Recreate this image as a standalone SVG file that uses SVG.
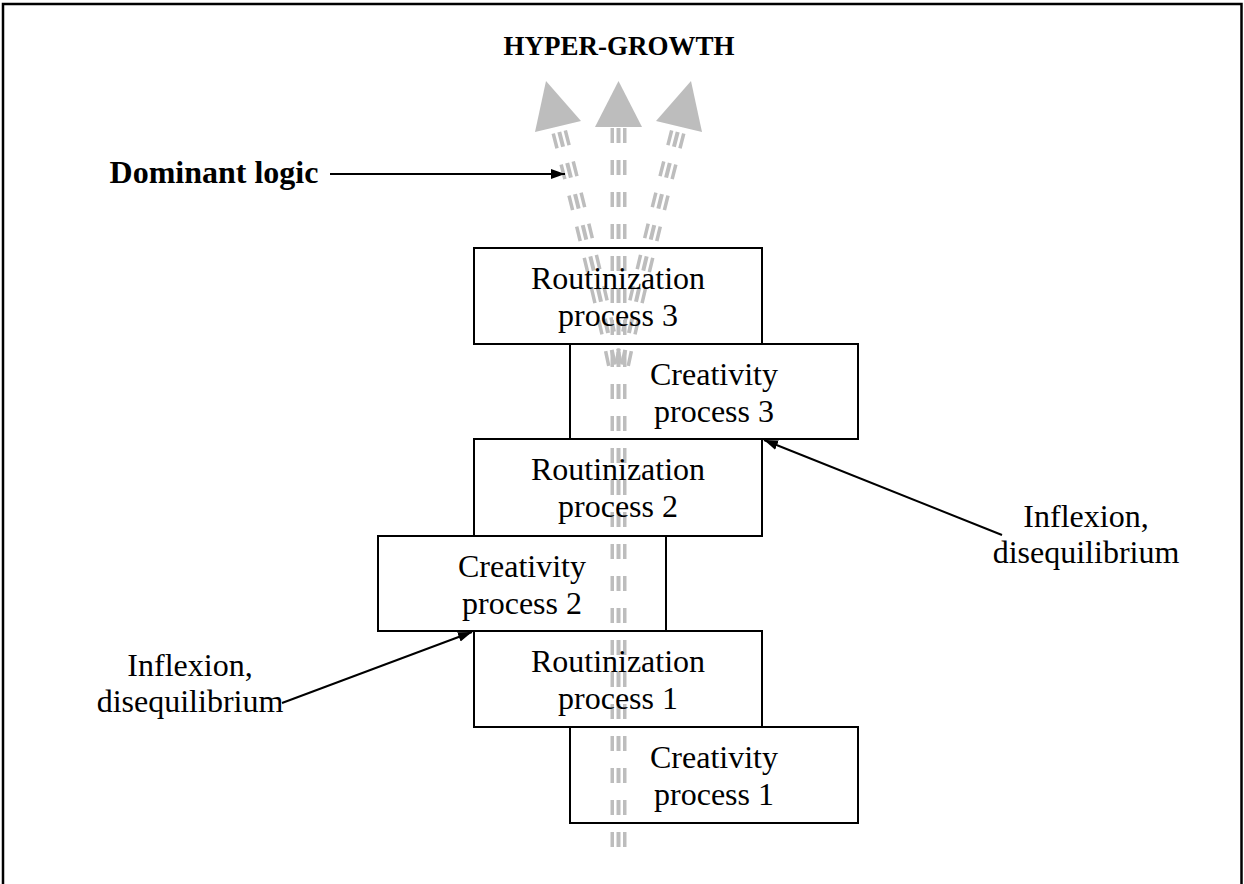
<svg xmlns="http://www.w3.org/2000/svg" xmlns:xlink="http://www.w3.org/1999/xlink" width="1244" height="884" viewBox="0 0 1244 884">
<style>
.box{fill:none;stroke:#000;stroke-width:2}
.t{font-family:"Liberation Serif","Times New Roman",serif;font-size:32px;fill:#000;text-anchor:middle}
.b{font-weight:bold}
.flow{fill:none;stroke:#bdbdbd;stroke-width:16;stroke-dasharray:15 17}
.head{fill:#bdbdbd}
.conn{fill:none;stroke:#000;stroke-width:2}
</style>
<defs>
<marker id="ah" markerUnits="userSpaceOnUse" markerWidth="15" markerHeight="11" refX="14" refY="5" orient="auto">
<path d="M0,0 L14,5 L0,10 z" fill="#000"/>
</marker>
<path id="pC" d="M618.5,128 L618.5,848"/>
<path id="pL" d="M558,127 Q600,290 618,380"/>
<path id="pR" d="M679,127 Q637,290 619,380"/>
<mask id="mC" maskUnits="userSpaceOnUse" x="0" y="0" width="1244" height="884">
<rect x="0" y="0" width="1244" height="884" fill="#fff"/>
<use xlink:href="#pC" fill="none" stroke="#000" stroke-width="9"/>
<use xlink:href="#pC" fill="none" stroke="#fff" stroke-width="4"/>
</mask>
<mask id="mL" maskUnits="userSpaceOnUse" x="0" y="0" width="1244" height="884">
<rect x="0" y="0" width="1244" height="884" fill="#fff"/>
<use xlink:href="#pL" fill="none" stroke="#000" stroke-width="9"/>
<use xlink:href="#pL" fill="none" stroke="#fff" stroke-width="4"/>
</mask>
<mask id="mR" maskUnits="userSpaceOnUse" x="0" y="0" width="1244" height="884">
<rect x="0" y="0" width="1244" height="884" fill="#fff"/>
<use xlink:href="#pR" fill="none" stroke="#000" stroke-width="9"/>
<use xlink:href="#pR" fill="none" stroke="#fff" stroke-width="4"/>
</mask>
</defs>
<rect x="0" y="0" width="1244" height="884" fill="#fff"/>
<rect id="frame" x="3" y="4" width="1238.5" height="900" fill="none" stroke="#000" stroke-width="2.5"/>
<g id="connectors">
<g id="flow-center">
<use xlink:href="#pC" class="flow" mask="url(#mC)"/>
<polygon class="head" points="618.5,81 595,127 642,127"/>
</g>
<g id="flow-left">
<use xlink:href="#pL" class="flow" stroke-dashoffset="27" mask="url(#mL)"/>
<polygon class="head" points="546,81 535,132 581,121"/>
</g>
<g id="flow-right">
<use xlink:href="#pR" class="flow" stroke-dashoffset="27" mask="url(#mR)"/>
<polygon class="head" points="691,81 656,121 702,132"/>
</g>
<line class="conn" x1="330" y1="174" x2="565" y2="174" marker-end="url(#ah)"/>
<line class="conn" x1="1002" y1="535" x2="764" y2="440" marker-end="url(#ah)"/>
<line class="conn" x1="282" y1="703" x2="472" y2="632" marker-end="url(#ah)"/>
</g>
<g id="title"><text class="t b" x="619" y="55" style="font-size:27px">HYPER-GROWTH</text></g>
<g id="dominant-logic"><text class="t b" x="214" y="183">Dominant logic</text></g>
<g id="r3"><rect class="box" x="474" y="248" width="288" height="96"/><text class="t" x="618" y="289">Routinization</text><text class="t" x="618" y="326">process 3</text></g>
<g id="c3"><rect class="box" x="570" y="344" width="288" height="95"/><text class="t" x="714" y="385">Creativity</text><text class="t" x="714" y="422">process 3</text></g>
<g id="r2"><rect class="box" x="474" y="439" width="288" height="97"/><text class="t" x="618" y="480">Routinization</text><text class="t" x="618" y="517">process 2</text></g>
<g id="c2"><rect class="box" x="378" y="536" width="288" height="95"/><text class="t" x="522" y="577">Creativity</text><text class="t" x="522" y="614">process 2</text></g>
<g id="r1"><rect class="box" x="474" y="631" width="288" height="96"/><text class="t" x="618" y="672">Routinization</text><text class="t" x="618" y="709">process 1</text></g>
<g id="c1"><rect class="box" x="570" y="727" width="288" height="96"/><text class="t" x="714" y="768">Creativity</text><text class="t" x="714" y="805">process 1</text></g>
<g id="inflexion-right"><text class="t" x="1086" y="527">Inflexion,</text><text class="t" x="1086" y="563">disequilibrium</text></g>
<g id="inflexion-left"><text class="t" x="190" y="676">Inflexion,</text><text class="t" x="190" y="712">disequilibrium</text></g>
</svg>
